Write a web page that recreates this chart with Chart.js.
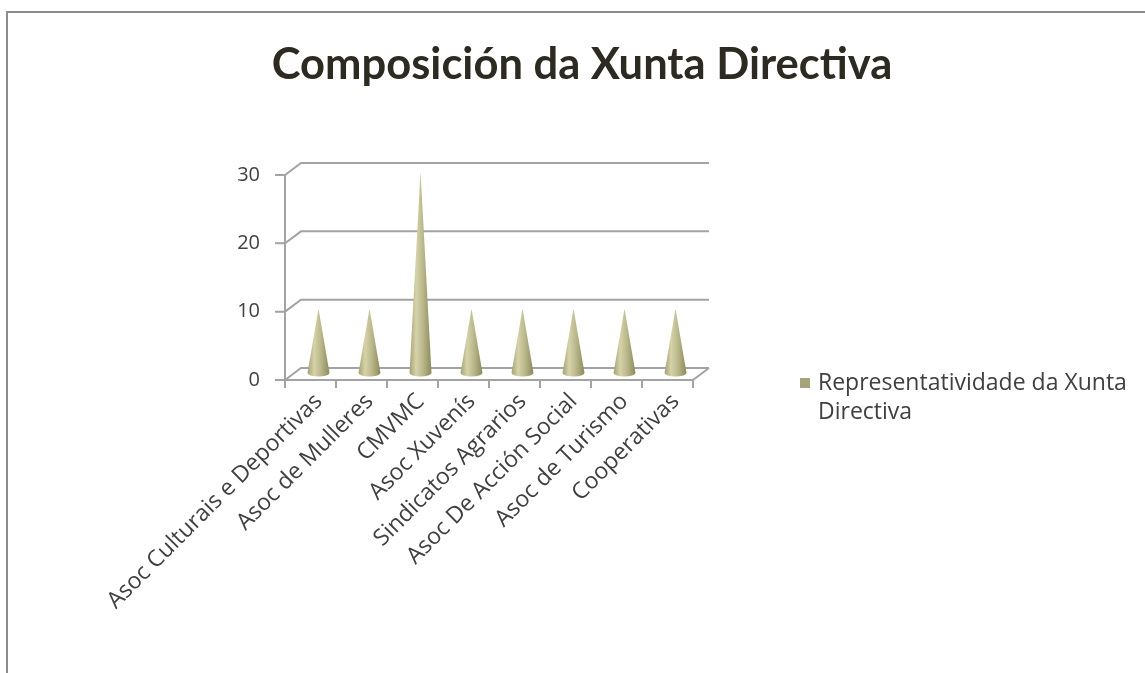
<!DOCTYPE html>
<html>
<head>
<meta charset="utf-8">
<script src="https://cdn.jsdelivr.net/npm/chart.js@4.4.1/dist/chart.umd.min.js"></script>
<style>
  html, body { margin: 0; padding: 0; background: #fff; overflow: hidden; width: 1145px; height: 673px; }
  #frame { position: absolute; left: 6px; top: 11px; width: 1160px; height: 680px;
           border-top: 2px solid #8c8c8c; border-left: 2px solid #8c8c8c; }
  #wrap { position: absolute; left: 0; top: 0; width: 1148px; height: 660px; }
</style>
</head>
<body>
<div id="frame"><div id="wrap"><canvas id="c"></canvas></div></div>
<script>
const titleText = 'Composición da Xunta Directiva';
const seriesName = 'Representatividade da Xunta Directiva';
const categories = ['Asoc Culturais e Deportivas', 'Asoc de Mulleres', 'CMVMC', 'Asoc Xuvenís',
  'Sindicatos Agrarios', 'Asoc De Acción Social', 'Asoc de Turismo', 'Cooperativas'];
const values = [10, 10, 30, 10, 10, 10, 10, 10];
const yTicks = [0, 10, 20, 30];

const FONT = 'Open Sans';
const TITLE_FONT = 'Lato';
const DX = 16, DY = 12;
const GRID = '#a3a3a3';

const gridPlugin = {
  id: 'grid3d',
  beforeDatasetsDraw(chart) {
    const ctx = chart.ctx, y = chart.scales.y, x = chart.scales.x;
    const L = chart.chartArea.left, R = chart.chartArea.right;
    const y0 = y.getPixelForValue(0);
    ctx.save();
    ctx.strokeStyle = GRID; ctx.lineWidth = 2; ctx.lineCap = 'butt';
    ctx.beginPath();
    yTicks.forEach(v => {
      const yp = y.getPixelForValue(v);
      ctx.moveTo(L - 10, yp); ctx.lineTo(L, yp);
      ctx.lineTo(L + DX, yp - DY); ctx.lineTo(R + DX, yp - DY);
    });
    ctx.moveTo(L, y.getPixelForValue(yTicks[yTicks.length - 1])); ctx.lineTo(L, y0);
    ctx.lineTo(R, y0); ctx.lineTo(R + DX, y0 - DY);
    const n = categories.length;
    for (let i = 0; i <= n; i++) {
      let bx;
      if (i === 0) bx = L; else if (i === n) bx = R;
      else bx = (x.getPixelForValue(i - 1) + x.getPixelForValue(i)) / 2;
      ctx.moveTo(bx, y0); ctx.lineTo(bx, y0 + 8);
    }
    ctx.stroke();
    ctx.restore();
  }
};

const conePlugin = {
  id: 'cones',
  afterDatasetsDraw(chart) {
    const ctx = chart.ctx;
    const meta = chart.getDatasetMeta(0);
    ctx.save();
    meta.data.forEach(el => {
      const cx = el.x + DX / 2;
      const by = el.base - DY / 2 - 1;
      const ty = el.y - 3;
      const rx = 11, ry = 3.5;
      const g = ctx.createLinearGradient(cx - rx, 0, cx + rx, 0);
      g.addColorStop(0, '#a4a174');
      g.addColorStop(0.3, '#d6d3aa');
      g.addColorStop(0.62, '#b9b68a');
      g.addColorStop(1, '#8c895b');
      ctx.fillStyle = g;
      ctx.beginPath();
      ctx.moveTo(cx, ty);
      ctx.lineTo(cx + rx, by);
      ctx.ellipse(cx, by, rx, ry, 0, 0, Math.PI, false);
      ctx.lineTo(cx, ty);
      ctx.closePath();
      ctx.fill();
    });
    ctx.restore();
  }
};

const legendPlugin = {
  id: 'legend3d',
  afterDraw(chart) {
    const ctx = chart.ctx;
    ctx.save();
    ctx.fillStyle = '#a6a37b';
    ctx.fillRect(792, 365, 10, 10);
    ctx.font = '23px "' + FONT + '"';
    ctx.fillStyle = '#404040';
    ctx.textBaseline = 'middle';
    const words = chart.data.datasets[0].label.split(' ');
    const lines = []; let cur = '';
    words.forEach(w => {
      const t = cur ? cur + ' ' + w : w;
      if (ctx.measureText(t).width > 330 && cur) { lines.push(cur); cur = w; } else cur = t;
    });
    lines.push(cur);
    lines.forEach((ln, i) => ctx.fillText(ln, 810, 370 + i * 29));
    ctx.restore();
  }
};

new Chart(document.getElementById('c'), {
  type: 'bar',
  data: {
    labels: categories,
    datasets: [{ label: seriesName, data: values, backgroundColor: 'rgba(0,0,0,0)', borderWidth: 0 }]
  },
  options: {
    responsive: true, maintainAspectRatio: false, animation: false,
    layout: { padding: { left: 0, right: 0, top: 16, bottom: 0 } },
    plugins: {
      legend: { display: false },
      tooltip: { enabled: false },
      title: { display: true, text: titleText, color: '#2d2a22',
        font: { family: TITLE_FONT, size: 43.5, weight: 'bold' },
        padding: { top: 10, bottom: 83.8 } }
    },
    scales: {
      y: {
        min: 0, max: 30,
        afterBuildTicks: s => { s.ticks = yTicks.map(v => ({ value: v })); },
        afterFit: s => { s.width = 277; },
        grid: { display: false, drawTicks: false, tickLength: 0 },
        border: { display: false },
        ticks: { color: '#404040', font: { family: FONT, size: 20 }, padding: 25 }
      },
      yRight: {
        position: 'right', display: true,
        afterFit: s => { s.width = 463; },
        grid: { display: false, drawTicks: false },
        border: { display: false },
        ticks: { display: false }
      },
      x: {
        afterFit: s => { s.height = 293; },
        grid: { display: false, drawTicks: false, tickLength: 0 },
        border: { display: false },
        ticks: { color: '#404040', font: { family: FONT, size: 23 }, padding: 8,
          minRotation: 45, maxRotation: 45, autoSkip: false, labelOffset: 8 }
      }
    }
  },
  plugins: [gridPlugin, conePlugin, legendPlugin]
});
</script>
</body>
</html>
